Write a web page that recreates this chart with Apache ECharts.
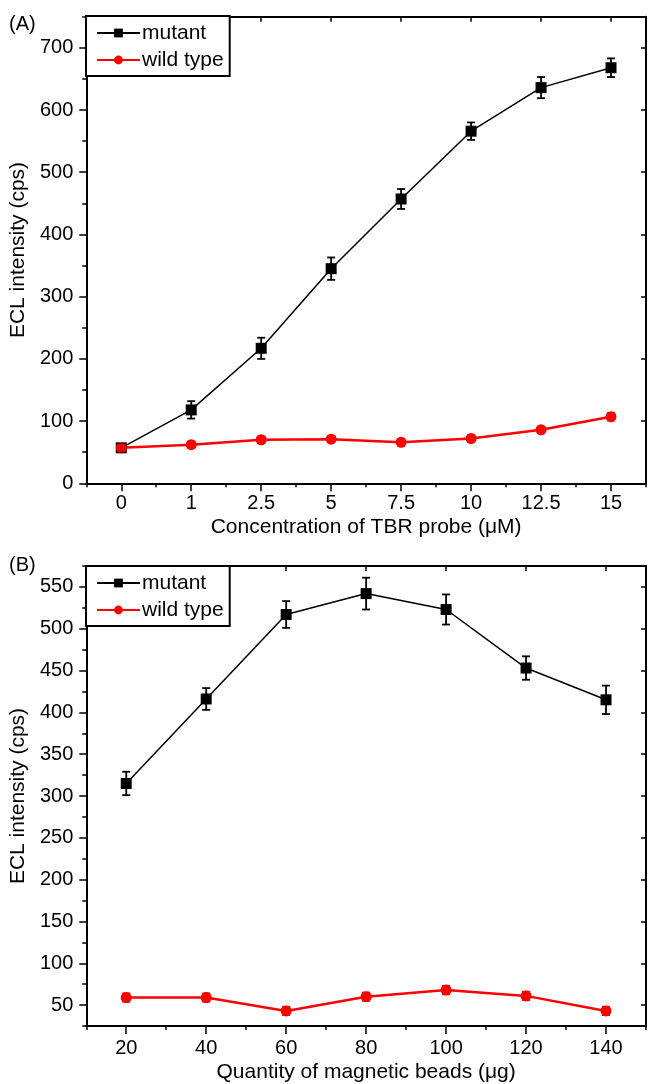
<!DOCTYPE html>
<html>
<head>
<meta charset="utf-8">
<title>ECL intensity</title>
<script src="https://cdn.jsdelivr.net/npm/echarts@6/dist/echarts.min.js"></script>
<style>
  html, body { margin: 0; padding: 0; background: #fff; }
  #chart { width: 648px; height: 1084px; }
</style>
</head>
<body>
<div id="chart"></div>
<script>
// panel A: concentration of TBR probe
const tbrLabels = ['0', '1', '2.5', '5', '7.5', '10', '12.5', '15'];
const mutantA = [57, 118, 217, 345, 457, 566, 636, 668];
const mutantAErr = [6, 14, 17, 18, 16, 14, 17, 15];
const wildA = [57, 62, 70, 71, 66, 72, 86, 107];
const wildAErr = [5, 5, 5, 5, 5, 5, 5, 6];
const yTicksA = [0, 100, 200, 300, 400, 500, 600, 700];

// panel B: quantity of magnetic beads
const beads = [20, 40, 60, 80, 100, 120, 140];
const mutantB = [315, 416, 517, 542, 523, 453, 415];
const mutantBErr = [14, 13, 16, 19, 18, 14, 17];
const wildB = [59, 59, 43, 60, 68, 61, 43];
const wildBErr = [5, 5, 5, 5, 5, 5, 5];
const xTicksB = [20, 40, 60, 80, 100, 120, 140];
const yTicksB = [50, 100, 150, 200, 250, 300, 350, 400, 450, 500, 550];

const FONT = 'Liberation Sans, Arial, sans-serif';
const tbrIdx = tbrLabels.map((_, i) => i);

var myChart = echarts.init(document.getElementById('chart'));

// one panel = bottom axis (labels + long ticks), bottom minor ticks, top frame,
// left axis (labels + long ticks), left minor ticks, right frame
function xAxes(grid, min, max, minorStep, majors, fmt, name, nameGap, labelMargin) {
	const line = { show: true, onZero: false, lineStyle: { color: '#000', width: 2 } };
	return [
		{
			type: 'value', gridIndex: grid, position: 'bottom', min, max,
			axisLine: line,
			axisTick: { show: true, inside: false, length: 8, customValues: majors, lineStyle: { color: '#000', width: 1.5 } },
			axisLabel: { show: true, customValues: majors, formatter: fmt, margin: labelMargin, color: '#000', fontSize: 20, fontFamily: FONT },
			splitLine: { show: false },
			name, nameLocation: 'middle', nameGap,
			nameTextStyle: { color: '#000', fontSize: 21, fontFamily: FONT },
		},
		{
			type: 'value', gridIndex: grid, position: 'bottom', min, max, interval: minorStep,
			axisLine: { show: false, onZero: false },
			axisTick: { show: true, length: 4, lineStyle: { color: '#000', width: 1.5 } },
			axisLabel: { show: false },
			splitLine: { show: false },
		},
		{
			type: 'value', gridIndex: grid, position: 'top', min, max,
			axisLine: line,
			axisTick: { show: true, inside: true, length: 5, customValues: majors, lineStyle: { color: '#000', width: 1.5 } },
			axisLabel: { show: false },
			splitLine: { show: false },
		},
	];
}

function yAxes(grid, min, max, minorStep, majors) {
	const line = { show: true, onZero: false, lineStyle: { color: '#000', width: 2 } };
	return [
		{
			type: 'value', gridIndex: grid, position: 'left', min, max,
			axisLine: line,
			axisTick: { show: true, length: 7, customValues: majors, lineStyle: { color: '#000', width: 1.5 } },
			axisLabel: { show: true, customValues: majors, margin: 13, color: '#000', fontSize: 20, fontFamily: FONT },
			splitLine: { show: false },
			name: 'ECL intensity (cps)', nameLocation: 'middle', nameGap: 52,
			nameTextStyle: { color: '#000', fontSize: 21, fontFamily: FONT },
		},
		{
			type: 'value', gridIndex: grid, position: 'left', min, max, interval: minorStep,
			axisLine: { show: false, onZero: false },
			axisTick: { show: true, length: 4, lineStyle: { color: '#000', width: 1.5 } },
			axisLabel: { show: false },
			splitLine: { show: false },
		},
		{
			type: 'value', gridIndex: grid, position: 'right', min, max,
			axisLine: line,
			axisTick: { show: true, inside: true, length: 5, customValues: majors, lineStyle: { color: '#000', width: 1.5 } },
			axisLabel: { show: false },
			splitLine: { show: false },
		},
	];
}

function errBars(name, axisIdx, xs, vals, errs, color) {
	return {
		name, type: 'custom', xAxisIndex: axisIdx, yAxisIndex: axisIdx, z: 4,
		silent: true,
		data: xs.map((x, i) => [x, vals[i], errs[i]]),
		encode: { x: 0, y: 1 },
		renderItem: function (params, api) {
			const x = api.value(0), v = api.value(1), e = api.value(2);
			const hi = api.coord([x, v + e]);
			const lo = api.coord([x, v - e]);
			const w = 4;
			const style = { stroke: color, lineWidth: 1.8 };
			return {
				type: 'group',
				children: [
					{ type: 'line', shape: { x1: hi[0], y1: hi[1], x2: lo[0], y2: lo[1] }, style },
					{ type: 'line', shape: { x1: hi[0] - w, y1: hi[1], x2: hi[0] + w, y2: hi[1] }, style },
					{ type: 'line', shape: { x1: lo[0] - w, y1: lo[1], x2: lo[0] + w, y2: lo[1] }, style },
				],
			};
		},
	};
}

function lineSeries(name, axisIdx, xs, vals, color, symbol, width) {
	return {
		name, type: 'line', xAxisIndex: axisIdx, yAxisIndex: axisIdx, z: 3,
		data: xs.map((x, i) => [x, vals[i]]),
		symbol, symbolSize: 11,
		lineStyle: { color, width },
		itemStyle: { color },
		animation: false,
	};
}

function legendBox(top) {
	return {
		data: ['mutant', 'wild type'],
		orient: 'vertical',
		left: 86, top,
		itemWidth: 43, itemHeight: 11, itemGap: 5,
		padding: [6, 6, 5, 10],
		borderColor: '#000', borderWidth: 2,
		backgroundColor: '#fff',
		textStyle: { color: '#000', fontSize: 21, fontFamily: FONT, lineHeight: 22, padding: [0, 0, 0, -3] },
		selectedMode: false,
	};
}

var option = {
	backgroundColor: '#fff',
	animation: false,
	grid: [
		{ left: 85, top: 16.7, width: 561, height: 466.6 },
		{ left: 85, top: 566, width: 561, height: 460.7 },
	],
	legend: [legendBox(16), legendBox(566)],
	xAxis: [
		...xAxes(0, -0.5, 7.5, 0.5, tbrIdx, v => tbrLabels[Math.round(v)], 'Concentration of TBR probe (\u03bcM)', 33, 10),
		...xAxes(1, 10, 150, 10, xTicksB, v => v, 'Quantity of magnetic beads (\u03bcg)', 36, 12),
	],
	yAxis: [
		...yAxes(0, 0, 750, 50, yTicksA),
		...yAxes(1, 25, 575, 25, yTicksB),
	],
	graphic: [
		{ type: 'text', left: 9, top: 14, style: { text: '(A)', fill: '#000', font: '20px ' + FONT } },
		{ type: 'text', left: 9, top: 555, style: { text: '(B)', fill: '#000', font: '20px ' + FONT } },
	],
	series: [
		lineSeries('mutant', 0, tbrIdx, mutantA, '#000', 'rect', 1.5),
		lineSeries('wild type', 0, tbrIdx, wildA, '#ff0000', 'circle', 2.5),
		errBars('mutant err A', 0, tbrIdx, mutantA, mutantAErr, '#000'),
		errBars('wild err A', 0, tbrIdx, wildA, wildAErr, '#ff0000'),
		lineSeries('mutant', 3, beads, mutantB, '#000', 'rect', 1.5),
		lineSeries('wild type', 3, beads, wildB, '#ff0000', 'circle', 2.5),
		errBars('mutant err B', 3, beads, mutantB, mutantBErr, '#000'),
		errBars('wild err B', 3, beads, wildB, wildBErr, '#ff0000'),
	],
};

option && myChart.setOption(option);
</script>
</body>
</html>
